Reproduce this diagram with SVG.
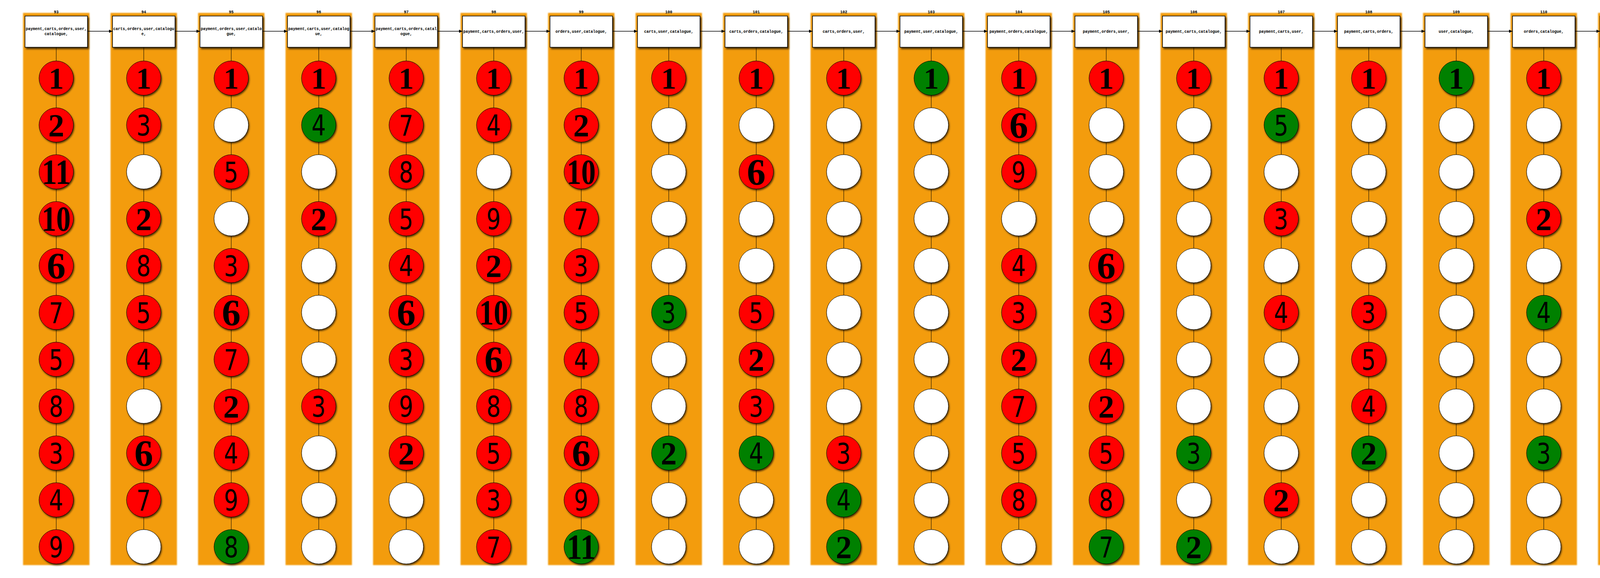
<svg xmlns="http://www.w3.org/2000/svg" width="7008" height="1480" viewBox="0 0 7008 1480">
<defs>
<filter id="blur" x="-10%" y="-2%" width="120%" height="104%"><feGaussianBlur stdDeviation="1.5"/></filter>
<filter id="bs" x="-10%" y="-10%" width="130%" height="130%"><feDropShadow dx="3" dy="4" stdDeviation="2" flood-color="#000" flood-opacity="0.7"/></filter>
<filter id="cs" x="-20%" y="-20%" width="150%" height="150%"><feDropShadow dx="2" dy="3" stdDeviation="2" flood-color="#000" flood-opacity="0.7"/></filter>
<marker id="ah" viewBox="0 0 9 8" refX="9" refY="4" markerWidth="9" markerHeight="8" markerUnits="userSpaceOnUse" orient="auto"><path d="M0,0 L9,4 L0,8 z" fill="#000"/></marker>
<style>
.band{fill:#F39C0A;filter:url(#blur)}
.cl,.t{font-family:"Liberation Mono",monospace;font-weight:bold;font-size:10px;text-anchor:middle;fill:#000}
.box{fill:#fff;stroke:#000;stroke-width:1.5;filter:url(#bs)}
circle{stroke:#000;stroke-width:1;filter:url(#cs)}
.R{fill:#f00}.G{fill:#008000}.W{fill:#fff}
.d1,.d2,.d6,.dd{font-family:"Liberation Serif",serif;font-weight:bold;text-anchor:middle;fill:#000}
.d1{font-size:78px}.d2{font-size:82px}.d6{font-size:96px}.dd{font-size:92px}
.ds{font-family:"DejaVu Sans Condensed","DejaVu Sans",sans-serif;font-stretch:condensed;font-size:73px;text-anchor:middle;fill:#000;transform-box:fill-box;transform-origin:center;transform:scaleX(.88)}
.e{fill:none;stroke:#000;stroke-width:1}
.a{stroke:#000;stroke-width:1.5;marker-end:url(#ah)}
</style>
</defs>
<rect width="7008" height="1480" fill="#fff"/>
<g id="clusters">
<g id="cluster93" transform="translate(144 0)"><rect class="band" x="-85" y="33" width="170" height="1414"/><text class="cl" y="34">93</text></g>
<g id="cluster94" transform="translate(368 0)"><rect class="band" x="-85" y="33" width="170" height="1414"/><text class="cl" y="34">94</text></g>
<g id="cluster95" transform="translate(592 0)"><rect class="band" x="-85" y="33" width="170" height="1414"/><text class="cl" y="34">95</text></g>
<g id="cluster96" transform="translate(816 0)"><rect class="band" x="-85" y="33" width="170" height="1414"/><text class="cl" y="34">96</text></g>
<g id="cluster97" transform="translate(1040 0)"><rect class="band" x="-85" y="33" width="170" height="1414"/><text class="cl" y="34">97</text></g>
<g id="cluster98" transform="translate(1264 0)"><rect class="band" x="-85" y="33" width="170" height="1414"/><text class="cl" y="34">98</text></g>
<g id="cluster99" transform="translate(1488 0)"><rect class="band" x="-85" y="33" width="170" height="1414"/><text class="cl" y="34">99</text></g>
<g id="cluster100" transform="translate(1712 0)"><rect class="band" x="-85" y="33" width="170" height="1414"/><text class="cl" y="34">100</text></g>
<g id="cluster101" transform="translate(1936 0)"><rect class="band" x="-85" y="33" width="170" height="1414"/><text class="cl" y="34">101</text></g>
<g id="cluster102" transform="translate(2160 0)"><rect class="band" x="-85" y="33" width="170" height="1414"/><text class="cl" y="34">102</text></g>
<g id="cluster103" transform="translate(2384 0)"><rect class="band" x="-85" y="33" width="170" height="1414"/><text class="cl" y="34">103</text></g>
<g id="cluster104" transform="translate(2608 0)"><rect class="band" x="-85" y="33" width="170" height="1414"/><text class="cl" y="34">104</text></g>
<g id="cluster105" transform="translate(2832 0)"><rect class="band" x="-85" y="33" width="170" height="1414"/><text class="cl" y="34">105</text></g>
<g id="cluster106" transform="translate(3056 0)"><rect class="band" x="-85" y="33" width="170" height="1414"/><text class="cl" y="34">106</text></g>
<g id="cluster107" transform="translate(3280 0)"><rect class="band" x="-85" y="33" width="170" height="1414"/><text class="cl" y="34">107</text></g>
<g id="cluster108" transform="translate(3504 0)"><rect class="band" x="-85" y="33" width="170" height="1414"/><text class="cl" y="34">108</text></g>
<g id="cluster109" transform="translate(3728 0)"><rect class="band" x="-85" y="33" width="170" height="1414"/><text class="cl" y="34">109</text></g>
<g id="cluster110" transform="translate(3952 0)"><rect class="band" x="-85" y="33" width="170" height="1414"/><text class="cl" y="34">110</text></g>
<g id="cluster111" transform="translate(4176 0)"><rect class="band" x="-85" y="33" width="170" height="1414"/><text class="cl" y="34">111</text></g>
<g id="cluster112" transform="translate(4400 0)"><rect class="band" x="-85" y="33" width="170" height="1414"/><text class="cl" y="34">112</text></g>
<g id="cluster113" transform="translate(4624 0)"><rect class="band" x="-85" y="33" width="170" height="1414"/><text class="cl" y="34">113</text></g>
<g id="cluster114" transform="translate(4848 0)"><rect class="band" x="-85" y="33" width="170" height="1414"/><text class="cl" y="34">114</text></g>
<g id="cluster115" transform="translate(5072 0)"><rect class="band" x="-85" y="33" width="170" height="1414"/><text class="cl" y="34">115</text></g>
<g id="cluster116" transform="translate(5296 0)"><rect class="band" x="-85" y="33" width="170" height="1414"/><text class="cl" y="34">116</text></g>
<g id="cluster117" transform="translate(5520 0)"><rect class="band" x="-85" y="33" width="170" height="1414"/><text class="cl" y="34">117</text></g>
<g id="cluster118" transform="translate(5744 0)"><rect class="band" x="-85" y="33" width="170" height="1414"/><text class="cl" y="34">118</text></g>
<g id="cluster119" transform="translate(5968 0)"><rect class="band" x="-85" y="33" width="170" height="1414"/><text class="cl" y="34">119</text></g>
<g id="cluster120" transform="translate(6192 0)"><rect class="band" x="-85" y="33" width="170" height="1414"/><text class="cl" y="34">120</text></g>
<g id="cluster121" transform="translate(6416 0)"><rect class="band" x="-85" y="33" width="170" height="1414"/><text class="cl" y="34">121</text></g>
<g id="cluster122" transform="translate(6640 0)"><rect class="band" x="-85" y="33" width="170" height="1414"/><text class="cl" y="34">122</text></g>
<g id="cluster123" transform="translate(6864 0)"><rect class="band" x="-85" y="33" width="170" height="1414"/><text class="cl" y="34">123</text></g>
</g>
<g id="connectors">
<path class="e" d="M144 121V1400M368 121V1400M592 121V1400M816 121V1400M1040 121V1400M1264 121V1400M1488 121V1400M1712 121V1400M1936 121V1400M2160 121V1400M2384 121V1400M2608 121V1400M2832 121V1400M3056 121V1400M3280 121V1400M3504 121V1400M3728 121V1400M3952 121V1400M4176 121V1400M4400 121V1400M4624 121V1400M4848 121V1400M5072 121V1400M5296 121V1400M5520 121V1400M5744 121V1400M5968 121V1400M6192 121V1400M6416 121V1400M6640 121V1400M6864 121V1400"/>
<line class="a" x1="224" y1="80" x2="288" y2="80"/>
<line class="a" x1="448" y1="80" x2="512" y2="80"/>
<line class="a" x1="672" y1="80" x2="736" y2="80"/>
<line class="a" x1="896" y1="80" x2="960" y2="80"/>
<line class="a" x1="1120" y1="80" x2="1184" y2="80"/>
<line class="a" x1="1344" y1="80" x2="1408" y2="80"/>
<line class="a" x1="1568" y1="80" x2="1632" y2="80"/>
<line class="a" x1="1792" y1="80" x2="1856" y2="80"/>
<line class="a" x1="2016" y1="80" x2="2080" y2="80"/>
<line class="a" x1="2240" y1="80" x2="2304" y2="80"/>
<line class="a" x1="2464" y1="80" x2="2528" y2="80"/>
<line class="a" x1="2688" y1="80" x2="2752" y2="80"/>
<line class="a" x1="2912" y1="80" x2="2976" y2="80"/>
<line class="a" x1="3136" y1="80" x2="3200" y2="80"/>
<line class="a" x1="3360" y1="80" x2="3424" y2="80"/>
<line class="a" x1="3584" y1="80" x2="3648" y2="80"/>
<line class="a" x1="3808" y1="80" x2="3872" y2="80"/>
<line class="a" x1="4032" y1="80" x2="4096" y2="80"/>
<line class="a" x1="4256" y1="80" x2="4320" y2="80"/>
<line class="a" x1="4480" y1="80" x2="4544" y2="80"/>
<line class="a" x1="4704" y1="80" x2="4768" y2="80"/>
<line class="a" x1="4928" y1="80" x2="4992" y2="80"/>
<line class="a" x1="5152" y1="80" x2="5216" y2="80"/>
<line class="a" x1="5376" y1="80" x2="5440" y2="80"/>
<line class="a" x1="5600" y1="80" x2="5664" y2="80"/>
<line class="a" x1="5824" y1="80" x2="5888" y2="80"/>
<line class="a" x1="6048" y1="80" x2="6112" y2="80"/>
<line class="a" x1="6272" y1="80" x2="6336" y2="80"/>
<line class="a" x1="6496" y1="80" x2="6560" y2="80"/>
<line class="a" x1="6720" y1="80" x2="6784" y2="80"/>
</g>
<g id="nodes">
<g transform="translate(144 0)">
<g id="s93"><rect class="box" x="-80" y="41" width="160" height="80"/><text class="t" y="77">payment,carts,orders,user,</text><text class="t" y="90">catalogue,</text></g>
<g id="n93_1"><circle class="R" cy="200" r="44"/><text class="d1" y="227">1</text></g>
<g id="n93_2"><circle class="R" cy="320" r="44"/><text class="d2" y="349">2</text></g>
<g id="n93_3"><circle class="R" cy="440" r="44"/><text class="dd" y="471" textLength="74" lengthAdjust="spacingAndGlyphs">11</text></g>
<g id="n93_4"><circle class="R" cy="560" r="44"/><text class="dd" y="591" textLength="74" lengthAdjust="spacingAndGlyphs">10</text></g>
<g id="n93_5"><circle class="R" cy="680" r="44"/><text class="d6" y="713">6</text></g>
<g id="n93_6"><circle class="R" cy="800" r="44"/><text class="ds" y="827">7</text></g>
<g id="n93_7"><circle class="R" cy="920" r="44"/><text class="ds" y="947">5</text></g>
<g id="n93_8"><circle class="R" cy="1040" r="44"/><text class="ds" y="1067">8</text></g>
<g id="n93_9"><circle class="R" cy="1160" r="44"/><text class="ds" y="1187">3</text></g>
<g id="n93_10"><circle class="R" cy="1280" r="44"/><text class="ds" y="1307">4</text></g>
<g id="n93_11"><circle class="R" cy="1400" r="44"/><text class="ds" y="1427">9</text></g>
</g>
<g transform="translate(368 0)">
<g id="s94"><rect class="box" x="-80" y="41" width="160" height="80"/><text class="t" y="77">carts,orders,user,catalogu</text><text class="t" y="90">e,</text></g>
<g id="n94_1"><circle class="R" cy="200" r="44"/><text class="d1" y="227">1</text></g>
<g id="n94_2"><circle class="R" cy="320" r="44"/><text class="ds" y="347">3</text></g>
<g id="n94_3"><circle class="W" cy="440" r="44"/></g>
<g id="n94_4"><circle class="R" cy="560" r="44"/><text class="d2" y="589">2</text></g>
<g id="n94_5"><circle class="R" cy="680" r="44"/><text class="ds" y="707">8</text></g>
<g id="n94_6"><circle class="R" cy="800" r="44"/><text class="ds" y="827">5</text></g>
<g id="n94_7"><circle class="R" cy="920" r="44"/><text class="ds" y="947">4</text></g>
<g id="n94_8"><circle class="W" cy="1040" r="44"/></g>
<g id="n94_9"><circle class="R" cy="1160" r="44"/><text class="d6" y="1193">6</text></g>
<g id="n94_10"><circle class="R" cy="1280" r="44"/><text class="ds" y="1307">7</text></g>
<g id="n94_11"><circle class="W" cy="1400" r="44"/></g>
</g>
<g transform="translate(592 0)">
<g id="s95"><rect class="box" x="-80" y="41" width="160" height="80"/><text class="t" y="77">payment,orders,user,catalo</text><text class="t" y="90">gue,</text></g>
<g id="n95_1"><circle class="R" cy="200" r="44"/><text class="d1" y="227">1</text></g>
<g id="n95_2"><circle class="W" cy="320" r="44"/></g>
<g id="n95_3"><circle class="R" cy="440" r="44"/><text class="ds" y="467">5</text></g>
<g id="n95_4"><circle class="W" cy="560" r="44"/></g>
<g id="n95_5"><circle class="R" cy="680" r="44"/><text class="ds" y="707">3</text></g>
<g id="n95_6"><circle class="R" cy="800" r="44"/><text class="d6" y="833">6</text></g>
<g id="n95_7"><circle class="R" cy="920" r="44"/><text class="ds" y="947">7</text></g>
<g id="n95_8"><circle class="R" cy="1040" r="44"/><text class="d2" y="1069">2</text></g>
<g id="n95_9"><circle class="R" cy="1160" r="44"/><text class="ds" y="1187">4</text></g>
<g id="n95_10"><circle class="R" cy="1280" r="44"/><text class="ds" y="1307">9</text></g>
<g id="n95_11"><circle class="G" cy="1400" r="44"/><text class="ds" y="1427">8</text></g>
</g>
<g transform="translate(816 0)">
<g id="s96"><rect class="box" x="-80" y="41" width="160" height="80"/><text class="t" y="77">payment,carts,user,catalog</text><text class="t" y="90">ue,</text></g>
<g id="n96_1"><circle class="R" cy="200" r="44"/><text class="d1" y="227">1</text></g>
<g id="n96_2"><circle class="G" cy="320" r="44"/><text class="ds" y="347">4</text></g>
<g id="n96_3"><circle class="W" cy="440" r="44"/></g>
<g id="n96_4"><circle class="R" cy="560" r="44"/><text class="d2" y="589">2</text></g>
<g id="n96_5"><circle class="W" cy="680" r="44"/></g>
<g id="n96_6"><circle class="W" cy="800" r="44"/></g>
<g id="n96_7"><circle class="W" cy="920" r="44"/></g>
<g id="n96_8"><circle class="R" cy="1040" r="44"/><text class="ds" y="1067">3</text></g>
<g id="n96_9"><circle class="W" cy="1160" r="44"/></g>
<g id="n96_10"><circle class="W" cy="1280" r="44"/></g>
<g id="n96_11"><circle class="W" cy="1400" r="44"/></g>
</g>
<g transform="translate(1040 0)">
<g id="s97"><rect class="box" x="-80" y="41" width="160" height="80"/><text class="t" y="77">payment,carts,orders,catal</text><text class="t" y="90">ogue,</text></g>
<g id="n97_1"><circle class="R" cy="200" r="44"/><text class="d1" y="227">1</text></g>
<g id="n97_2"><circle class="R" cy="320" r="44"/><text class="ds" y="347">7</text></g>
<g id="n97_3"><circle class="R" cy="440" r="44"/><text class="ds" y="467">8</text></g>
<g id="n97_4"><circle class="R" cy="560" r="44"/><text class="ds" y="587">5</text></g>
<g id="n97_5"><circle class="R" cy="680" r="44"/><text class="ds" y="707">4</text></g>
<g id="n97_6"><circle class="R" cy="800" r="44"/><text class="d6" y="833">6</text></g>
<g id="n97_7"><circle class="R" cy="920" r="44"/><text class="ds" y="947">3</text></g>
<g id="n97_8"><circle class="R" cy="1040" r="44"/><text class="ds" y="1067">9</text></g>
<g id="n97_9"><circle class="R" cy="1160" r="44"/><text class="d2" y="1189">2</text></g>
<g id="n97_10"><circle class="W" cy="1280" r="44"/></g>
<g id="n97_11"><circle class="W" cy="1400" r="44"/></g>
</g>
<g transform="translate(1264 0)">
<g id="s98"><rect class="box" x="-80" y="41" width="160" height="80"/><text class="t" y="84">payment,carts,orders,user,</text></g>
<g id="n98_1"><circle class="R" cy="200" r="44"/><text class="d1" y="227">1</text></g>
<g id="n98_2"><circle class="R" cy="320" r="44"/><text class="ds" y="347">4</text></g>
<g id="n98_3"><circle class="W" cy="440" r="44"/></g>
<g id="n98_4"><circle class="R" cy="560" r="44"/><text class="ds" y="587">9</text></g>
<g id="n98_5"><circle class="R" cy="680" r="44"/><text class="d2" y="709">2</text></g>
<g id="n98_6"><circle class="R" cy="800" r="44"/><text class="dd" y="831" textLength="74" lengthAdjust="spacingAndGlyphs">10</text></g>
<g id="n98_7"><circle class="R" cy="920" r="44"/><text class="d6" y="953">6</text></g>
<g id="n98_8"><circle class="R" cy="1040" r="44"/><text class="ds" y="1067">8</text></g>
<g id="n98_9"><circle class="R" cy="1160" r="44"/><text class="ds" y="1187">5</text></g>
<g id="n98_10"><circle class="R" cy="1280" r="44"/><text class="ds" y="1307">3</text></g>
<g id="n98_11"><circle class="R" cy="1400" r="44"/><text class="ds" y="1427">7</text></g>
</g>
<g transform="translate(1488 0)">
<g id="s99"><rect class="box" x="-80" y="41" width="160" height="80"/><text class="t" y="84">orders,user,catalogue,</text></g>
<g id="n99_1"><circle class="R" cy="200" r="44"/><text class="d1" y="227">1</text></g>
<g id="n99_2"><circle class="R" cy="320" r="44"/><text class="d2" y="349">2</text></g>
<g id="n99_3"><circle class="R" cy="440" r="44"/><text class="dd" y="471" textLength="74" lengthAdjust="spacingAndGlyphs">10</text></g>
<g id="n99_4"><circle class="R" cy="560" r="44"/><text class="ds" y="587">7</text></g>
<g id="n99_5"><circle class="R" cy="680" r="44"/><text class="ds" y="707">3</text></g>
<g id="n99_6"><circle class="R" cy="800" r="44"/><text class="ds" y="827">5</text></g>
<g id="n99_7"><circle class="R" cy="920" r="44"/><text class="ds" y="947">4</text></g>
<g id="n99_8"><circle class="R" cy="1040" r="44"/><text class="ds" y="1067">8</text></g>
<g id="n99_9"><circle class="R" cy="1160" r="44"/><text class="d6" y="1193">6</text></g>
<g id="n99_10"><circle class="R" cy="1280" r="44"/><text class="ds" y="1307">9</text></g>
<g id="n99_11"><circle class="G" cy="1400" r="44"/><text class="dd" y="1431" textLength="74" lengthAdjust="spacingAndGlyphs">11</text></g>
</g>
<g transform="translate(1712 0)">
<g id="s100"><rect class="box" x="-80" y="41" width="160" height="80"/><text class="t" y="84">carts,user,catalogue,</text></g>
<g id="n100_1"><circle class="R" cy="200" r="44"/><text class="d1" y="227">1</text></g>
<g id="n100_2"><circle class="W" cy="320" r="44"/></g>
<g id="n100_3"><circle class="W" cy="440" r="44"/></g>
<g id="n100_4"><circle class="W" cy="560" r="44"/></g>
<g id="n100_5"><circle class="W" cy="680" r="44"/></g>
<g id="n100_6"><circle class="G" cy="800" r="44"/><text class="ds" y="827">3</text></g>
<g id="n100_7"><circle class="W" cy="920" r="44"/></g>
<g id="n100_8"><circle class="W" cy="1040" r="44"/></g>
<g id="n100_9"><circle class="G" cy="1160" r="44"/><text class="d2" y="1189">2</text></g>
<g id="n100_10"><circle class="W" cy="1280" r="44"/></g>
<g id="n100_11"><circle class="W" cy="1400" r="44"/></g>
</g>
<g transform="translate(1936 0)">
<g id="s101"><rect class="box" x="-80" y="41" width="160" height="80"/><text class="t" y="84">carts,orders,catalogue,</text></g>
<g id="n101_1"><circle class="R" cy="200" r="44"/><text class="d1" y="227">1</text></g>
<g id="n101_2"><circle class="W" cy="320" r="44"/></g>
<g id="n101_3"><circle class="R" cy="440" r="44"/><text class="d6" y="473">6</text></g>
<g id="n101_4"><circle class="W" cy="560" r="44"/></g>
<g id="n101_5"><circle class="W" cy="680" r="44"/></g>
<g id="n101_6"><circle class="R" cy="800" r="44"/><text class="ds" y="827">5</text></g>
<g id="n101_7"><circle class="R" cy="920" r="44"/><text class="d2" y="949">2</text></g>
<g id="n101_8"><circle class="R" cy="1040" r="44"/><text class="ds" y="1067">3</text></g>
<g id="n101_9"><circle class="G" cy="1160" r="44"/><text class="ds" y="1187">4</text></g>
<g id="n101_10"><circle class="W" cy="1280" r="44"/></g>
<g id="n101_11"><circle class="W" cy="1400" r="44"/></g>
</g>
<g transform="translate(2160 0)">
<g id="s102"><rect class="box" x="-80" y="41" width="160" height="80"/><text class="t" y="84">carts,orders,user,</text></g>
<g id="n102_1"><circle class="R" cy="200" r="44"/><text class="d1" y="227">1</text></g>
<g id="n102_2"><circle class="W" cy="320" r="44"/></g>
<g id="n102_3"><circle class="W" cy="440" r="44"/></g>
<g id="n102_4"><circle class="W" cy="560" r="44"/></g>
<g id="n102_5"><circle class="W" cy="680" r="44"/></g>
<g id="n102_6"><circle class="W" cy="800" r="44"/></g>
<g id="n102_7"><circle class="W" cy="920" r="44"/></g>
<g id="n102_8"><circle class="W" cy="1040" r="44"/></g>
<g id="n102_9"><circle class="R" cy="1160" r="44"/><text class="ds" y="1187">3</text></g>
<g id="n102_10"><circle class="G" cy="1280" r="44"/><text class="ds" y="1307">4</text></g>
<g id="n102_11"><circle class="G" cy="1400" r="44"/><text class="d2" y="1429">2</text></g>
</g>
<g transform="translate(2384 0)">
<g id="s103"><rect class="box" x="-80" y="41" width="160" height="80"/><text class="t" y="84">payment,user,catalogue,</text></g>
<g id="n103_1"><circle class="G" cy="200" r="44"/><text class="d1" y="227">1</text></g>
<g id="n103_2"><circle class="W" cy="320" r="44"/></g>
<g id="n103_3"><circle class="W" cy="440" r="44"/></g>
<g id="n103_4"><circle class="W" cy="560" r="44"/></g>
<g id="n103_5"><circle class="W" cy="680" r="44"/></g>
<g id="n103_6"><circle class="W" cy="800" r="44"/></g>
<g id="n103_7"><circle class="W" cy="920" r="44"/></g>
<g id="n103_8"><circle class="W" cy="1040" r="44"/></g>
<g id="n103_9"><circle class="W" cy="1160" r="44"/></g>
<g id="n103_10"><circle class="W" cy="1280" r="44"/></g>
<g id="n103_11"><circle class="W" cy="1400" r="44"/></g>
</g>
<g transform="translate(2608 0)">
<g id="s104"><rect class="box" x="-80" y="41" width="160" height="80"/><text class="t" y="84">payment,orders,catalogue,</text></g>
<g id="n104_1"><circle class="R" cy="200" r="44"/><text class="d1" y="227">1</text></g>
<g id="n104_2"><circle class="R" cy="320" r="44"/><text class="d6" y="353">6</text></g>
<g id="n104_3"><circle class="R" cy="440" r="44"/><text class="ds" y="467">9</text></g>
<g id="n104_4"><circle class="W" cy="560" r="44"/></g>
<g id="n104_5"><circle class="R" cy="680" r="44"/><text class="ds" y="707">4</text></g>
<g id="n104_6"><circle class="R" cy="800" r="44"/><text class="ds" y="827">3</text></g>
<g id="n104_7"><circle class="R" cy="920" r="44"/><text class="d2" y="949">2</text></g>
<g id="n104_8"><circle class="R" cy="1040" r="44"/><text class="ds" y="1067">7</text></g>
<g id="n104_9"><circle class="R" cy="1160" r="44"/><text class="ds" y="1187">5</text></g>
<g id="n104_10"><circle class="R" cy="1280" r="44"/><text class="ds" y="1307">8</text></g>
<g id="n104_11"><circle class="W" cy="1400" r="44"/></g>
</g>
<g transform="translate(2832 0)">
<g id="s105"><rect class="box" x="-80" y="41" width="160" height="80"/><text class="t" y="84">payment,orders,user,</text></g>
<g id="n105_1"><circle class="R" cy="200" r="44"/><text class="d1" y="227">1</text></g>
<g id="n105_2"><circle class="W" cy="320" r="44"/></g>
<g id="n105_3"><circle class="W" cy="440" r="44"/></g>
<g id="n105_4"><circle class="W" cy="560" r="44"/></g>
<g id="n105_5"><circle class="R" cy="680" r="44"/><text class="d6" y="713">6</text></g>
<g id="n105_6"><circle class="R" cy="800" r="44"/><text class="ds" y="827">3</text></g>
<g id="n105_7"><circle class="R" cy="920" r="44"/><text class="ds" y="947">4</text></g>
<g id="n105_8"><circle class="R" cy="1040" r="44"/><text class="d2" y="1069">2</text></g>
<g id="n105_9"><circle class="R" cy="1160" r="44"/><text class="ds" y="1187">5</text></g>
<g id="n105_10"><circle class="R" cy="1280" r="44"/><text class="ds" y="1307">8</text></g>
<g id="n105_11"><circle class="G" cy="1400" r="44"/><text class="ds" y="1427">7</text></g>
</g>
<g transform="translate(3056 0)">
<g id="s106"><rect class="box" x="-80" y="41" width="160" height="80"/><text class="t" y="84">payment,carts,catalogue,</text></g>
<g id="n106_1"><circle class="R" cy="200" r="44"/><text class="d1" y="227">1</text></g>
<g id="n106_2"><circle class="W" cy="320" r="44"/></g>
<g id="n106_3"><circle class="W" cy="440" r="44"/></g>
<g id="n106_4"><circle class="W" cy="560" r="44"/></g>
<g id="n106_5"><circle class="W" cy="680" r="44"/></g>
<g id="n106_6"><circle class="W" cy="800" r="44"/></g>
<g id="n106_7"><circle class="W" cy="920" r="44"/></g>
<g id="n106_8"><circle class="W" cy="1040" r="44"/></g>
<g id="n106_9"><circle class="G" cy="1160" r="44"/><text class="ds" y="1187">3</text></g>
<g id="n106_10"><circle class="W" cy="1280" r="44"/></g>
<g id="n106_11"><circle class="G" cy="1400" r="44"/><text class="d2" y="1429">2</text></g>
</g>
<g transform="translate(3280 0)">
<g id="s107"><rect class="box" x="-80" y="41" width="160" height="80"/><text class="t" y="84">payment,carts,user,</text></g>
<g id="n107_1"><circle class="R" cy="200" r="44"/><text class="d1" y="227">1</text></g>
<g id="n107_2"><circle class="G" cy="320" r="44"/><text class="ds" y="347">5</text></g>
<g id="n107_3"><circle class="W" cy="440" r="44"/></g>
<g id="n107_4"><circle class="R" cy="560" r="44"/><text class="ds" y="587">3</text></g>
<g id="n107_5"><circle class="W" cy="680" r="44"/></g>
<g id="n107_6"><circle class="R" cy="800" r="44"/><text class="ds" y="827">4</text></g>
<g id="n107_7"><circle class="W" cy="920" r="44"/></g>
<g id="n107_8"><circle class="W" cy="1040" r="44"/></g>
<g id="n107_9"><circle class="W" cy="1160" r="44"/></g>
<g id="n107_10"><circle class="R" cy="1280" r="44"/><text class="d2" y="1309">2</text></g>
<g id="n107_11"><circle class="W" cy="1400" r="44"/></g>
</g>
<g transform="translate(3504 0)">
<g id="s108"><rect class="box" x="-80" y="41" width="160" height="80"/><text class="t" y="84">payment,carts,orders,</text></g>
<g id="n108_1"><circle class="R" cy="200" r="44"/><text class="d1" y="227">1</text></g>
<g id="n108_2"><circle class="W" cy="320" r="44"/></g>
<g id="n108_3"><circle class="W" cy="440" r="44"/></g>
<g id="n108_4"><circle class="W" cy="560" r="44"/></g>
<g id="n108_5"><circle class="W" cy="680" r="44"/></g>
<g id="n108_6"><circle class="R" cy="800" r="44"/><text class="ds" y="827">3</text></g>
<g id="n108_7"><circle class="R" cy="920" r="44"/><text class="ds" y="947">5</text></g>
<g id="n108_8"><circle class="R" cy="1040" r="44"/><text class="ds" y="1067">4</text></g>
<g id="n108_9"><circle class="G" cy="1160" r="44"/><text class="d2" y="1189">2</text></g>
<g id="n108_10"><circle class="W" cy="1280" r="44"/></g>
<g id="n108_11"><circle class="W" cy="1400" r="44"/></g>
</g>
<g transform="translate(3728 0)">
<g id="s109"><rect class="box" x="-80" y="41" width="160" height="80"/><text class="t" y="84">user,catalogue,</text></g>
<g id="n109_1"><circle class="G" cy="200" r="44"/><text class="d1" y="227">1</text></g>
<g id="n109_2"><circle class="W" cy="320" r="44"/></g>
<g id="n109_3"><circle class="W" cy="440" r="44"/></g>
<g id="n109_4"><circle class="W" cy="560" r="44"/></g>
<g id="n109_5"><circle class="W" cy="680" r="44"/></g>
<g id="n109_6"><circle class="W" cy="800" r="44"/></g>
<g id="n109_7"><circle class="W" cy="920" r="44"/></g>
<g id="n109_8"><circle class="W" cy="1040" r="44"/></g>
<g id="n109_9"><circle class="W" cy="1160" r="44"/></g>
<g id="n109_10"><circle class="W" cy="1280" r="44"/></g>
<g id="n109_11"><circle class="W" cy="1400" r="44"/></g>
</g>
<g transform="translate(3952 0)">
<g id="s110"><rect class="box" x="-80" y="41" width="160" height="80"/><text class="t" y="84">orders,catalogue,</text></g>
<g id="n110_1"><circle class="R" cy="200" r="44"/><text class="d1" y="227">1</text></g>
<g id="n110_2"><circle class="W" cy="320" r="44"/></g>
<g id="n110_3"><circle class="W" cy="440" r="44"/></g>
<g id="n110_4"><circle class="R" cy="560" r="44"/><text class="d2" y="589">2</text></g>
<g id="n110_5"><circle class="W" cy="680" r="44"/></g>
<g id="n110_6"><circle class="G" cy="800" r="44"/><text class="ds" y="827">4</text></g>
<g id="n110_7"><circle class="W" cy="920" r="44"/></g>
<g id="n110_8"><circle class="W" cy="1040" r="44"/></g>
<g id="n110_9"><circle class="G" cy="1160" r="44"/><text class="ds" y="1187">3</text></g>
<g id="n110_10"><circle class="W" cy="1280" r="44"/></g>
<g id="n110_11"><circle class="W" cy="1400" r="44"/></g>
</g>
<g transform="translate(4176 0)">
<g id="s111"><rect class="box" x="-80" y="41" width="160" height="80"/><text class="t" y="84">orders,user,</text></g>
<g id="n111_1"><circle class="R" cy="200" r="44"/><text class="d1" y="227">1</text></g>
<g id="n111_2"><circle class="G" cy="320" r="44"/><text class="ds" y="347">4</text></g>
<g id="n111_3"><circle class="W" cy="440" r="44"/></g>
<g id="n111_4"><circle class="W" cy="560" r="44"/></g>
<g id="n111_5"><circle class="R" cy="680" r="44"/><text class="ds" y="707">3</text></g>
<g id="n111_6"><circle class="W" cy="800" r="44"/></g>
<g id="n111_7"><circle class="R" cy="920" r="44"/><text class="d2" y="949">2</text></g>
<g id="n111_8"><circle class="W" cy="1040" r="44"/></g>
<g id="n111_9"><circle class="W" cy="1160" r="44"/></g>
<g id="n111_10"><circle class="W" cy="1280" r="44"/></g>
<g id="n111_11"><circle class="W" cy="1400" r="44"/></g>
</g>
<g transform="translate(4400 0)">
<g id="s112"><rect class="box" x="-80" y="41" width="160" height="80"/><text class="t" y="84">carts,catalogue,</text></g>
<g id="n112_1"><circle class="R" cy="200" r="44"/><text class="d1" y="227">1</text></g>
<g id="n112_2"><circle class="W" cy="320" r="44"/></g>
<g id="n112_3"><circle class="W" cy="440" r="44"/></g>
<g id="n112_4"><circle class="W" cy="560" r="44"/></g>
<g id="n112_5"><circle class="W" cy="680" r="44"/></g>
<g id="n112_6"><circle class="G" cy="800" r="44"/><text class="ds" y="827">3</text></g>
<g id="n112_7"><circle class="W" cy="920" r="44"/></g>
<g id="n112_8"><circle class="W" cy="1040" r="44"/></g>
<g id="n112_9"><circle class="G" cy="1160" r="44"/><text class="d2" y="1189">2</text></g>
<g id="n112_10"><circle class="W" cy="1280" r="44"/></g>
<g id="n112_11"><circle class="W" cy="1400" r="44"/></g>
</g>
<g transform="translate(4624 0)">
<g id="s113"><rect class="box" x="-80" y="41" width="160" height="80"/><text class="t" y="84">carts,user,</text></g>
<g id="n113_1"><circle class="R" cy="200" r="44"/><text class="d1" y="227">1</text></g>
<g id="n113_2"><circle class="W" cy="320" r="44"/></g>
<g id="n113_3"><circle class="W" cy="440" r="44"/></g>
<g id="n113_4"><circle class="R" cy="560" r="44"/><text class="ds" y="587">5</text></g>
<g id="n113_5"><circle class="W" cy="680" r="44"/></g>
<g id="n113_6"><circle class="G" cy="800" r="44"/><text class="ds" y="827">4</text></g>
<g id="n113_7"><circle class="G" cy="920" r="44"/><text class="ds" y="947">3</text></g>
<g id="n113_8"><circle class="G" cy="1040" r="44"/><text class="d2" y="1069">2</text></g>
<g id="n113_9"><circle class="W" cy="1160" r="44"/></g>
<g id="n113_10"><circle class="W" cy="1280" r="44"/></g>
<g id="n113_11"><circle class="W" cy="1400" r="44"/></g>
</g>
<g transform="translate(4848 0)">
<g id="s114"><rect class="box" x="-80" y="41" width="160" height="80"/><text class="t" y="84">carts,orders,</text></g>
<g id="n114_1"><circle class="R" cy="200" r="44"/><text class="d1" y="227">1</text></g>
<g id="n114_2"><circle class="W" cy="320" r="44"/></g>
<g id="n114_3"><circle class="W" cy="440" r="44"/></g>
<g id="n114_4"><circle class="W" cy="560" r="44"/></g>
<g id="n114_5"><circle class="R" cy="680" r="44"/><text class="d2" y="709">2</text></g>
<g id="n114_6"><circle class="G" cy="800" r="44"/><text class="ds" y="827">5</text></g>
<g id="n114_7"><circle class="W" cy="920" r="44"/></g>
<g id="n114_8"><circle class="R" cy="1040" r="44"/><text class="ds" y="1067">3</text></g>
<g id="n114_9"><circle class="G" cy="1160" r="44"/><text class="ds" y="1187">4</text></g>
<g id="n114_10"><circle class="W" cy="1280" r="44"/></g>
<g id="n114_11"><circle class="W" cy="1400" r="44"/></g>
</g>
<g transform="translate(5072 0)">
<g id="s115"><rect class="box" x="-80" y="41" width="160" height="80"/><text class="t" y="84">payment,catalogue,</text></g>
<g id="n115_1"><circle class="G" cy="200" r="44"/><text class="d1" y="227">1</text></g>
<g id="n115_2"><circle class="W" cy="320" r="44"/></g>
<g id="n115_3"><circle class="W" cy="440" r="44"/></g>
<g id="n115_4"><circle class="W" cy="560" r="44"/></g>
<g id="n115_5"><circle class="W" cy="680" r="44"/></g>
<g id="n115_6"><circle class="W" cy="800" r="44"/></g>
<g id="n115_7"><circle class="W" cy="920" r="44"/></g>
<g id="n115_8"><circle class="W" cy="1040" r="44"/></g>
<g id="n115_9"><circle class="W" cy="1160" r="44"/></g>
<g id="n115_10"><circle class="W" cy="1280" r="44"/></g>
<g id="n115_11"><circle class="W" cy="1400" r="44"/></g>
</g>
<g transform="translate(5296 0)">
<g id="s116"><rect class="box" x="-80" y="41" width="160" height="80"/><text class="t" y="84">payment,user,</text></g>
<g id="n116_1"><circle class="G" cy="200" r="44"/><text class="d1" y="227">1</text></g>
<g id="n116_2"><circle class="W" cy="320" r="44"/></g>
<g id="n116_3"><circle class="W" cy="440" r="44"/></g>
<g id="n116_4"><circle class="W" cy="560" r="44"/></g>
<g id="n116_5"><circle class="W" cy="680" r="44"/></g>
<g id="n116_6"><circle class="W" cy="800" r="44"/></g>
<g id="n116_7"><circle class="W" cy="920" r="44"/></g>
<g id="n116_8"><circle class="W" cy="1040" r="44"/></g>
<g id="n116_9"><circle class="W" cy="1160" r="44"/></g>
<g id="n116_10"><circle class="W" cy="1280" r="44"/></g>
<g id="n116_11"><circle class="W" cy="1400" r="44"/></g>
</g>
<g transform="translate(5520 0)">
<g id="s117"><rect class="box" x="-80" y="41" width="160" height="80"/><text class="t" y="84">payment,orders,</text></g>
<g id="n117_1"><circle class="R" cy="200" r="44"/><text class="d1" y="227">1</text></g>
<g id="n117_2"><circle class="R" cy="320" r="44"/><text class="ds" y="347">3</text></g>
<g id="n117_3"><circle class="R" cy="440" r="44"/><text class="ds" y="467">4</text></g>
<g id="n117_4"><circle class="R" cy="560" r="44"/><text class="ds" y="587">7</text></g>
<g id="n117_5"><circle class="W" cy="680" r="44"/></g>
<g id="n117_6"><circle class="G" cy="800" r="44"/><text class="d6" y="833">6</text></g>
<g id="n117_7"><circle class="W" cy="920" r="44"/></g>
<g id="n117_8"><circle class="R" cy="1040" r="44"/><text class="d2" y="1069">2</text></g>
<g id="n117_9"><circle class="G" cy="1160" r="44"/><text class="ds" y="1187">5</text></g>
<g id="n117_10"><circle class="W" cy="1280" r="44"/></g>
<g id="n117_11"><circle class="W" cy="1400" r="44"/></g>
</g>
<g transform="translate(5744 0)">
<g id="s118"><rect class="box" x="-80" y="41" width="160" height="80"/><text class="t" y="84">payment,carts,</text></g>
<g id="n118_1"><circle class="R" cy="200" r="44"/><text class="d1" y="227">1</text></g>
<g id="n118_2"><circle class="W" cy="320" r="44"/></g>
<g id="n118_3"><circle class="W" cy="440" r="44"/></g>
<g id="n118_4"><circle class="W" cy="560" r="44"/></g>
<g id="n118_5"><circle class="W" cy="680" r="44"/></g>
<g id="n118_6"><circle class="W" cy="800" r="44"/></g>
<g id="n118_7"><circle class="W" cy="920" r="44"/></g>
<g id="n118_8"><circle class="G" cy="1040" r="44"/><text class="ds" y="1067">3</text></g>
<g id="n118_9"><circle class="W" cy="1160" r="44"/></g>
<g id="n118_10"><circle class="G" cy="1280" r="44"/><text class="d2" y="1309">2</text></g>
<g id="n118_11"><circle class="W" cy="1400" r="44"/></g>
</g>
<g transform="translate(5968 0)">
<g id="s119"><rect class="box" x="-80" y="41" width="160" height="80"/><text class="t" y="84">catalogue,</text></g>
<g id="n119_1"><circle class="G" cy="200" r="44"/><text class="d1" y="227">1</text></g>
<g id="n119_2"><circle class="W" cy="320" r="44"/></g>
<g id="n119_3"><circle class="W" cy="440" r="44"/></g>
<g id="n119_4"><circle class="W" cy="560" r="44"/></g>
<g id="n119_5"><circle class="W" cy="680" r="44"/></g>
<g id="n119_6"><circle class="W" cy="800" r="44"/></g>
<g id="n119_7"><circle class="W" cy="920" r="44"/></g>
<g id="n119_8"><circle class="W" cy="1040" r="44"/></g>
<g id="n119_9"><circle class="W" cy="1160" r="44"/></g>
<g id="n119_10"><circle class="W" cy="1280" r="44"/></g>
<g id="n119_11"><circle class="W" cy="1400" r="44"/></g>
</g>
<g transform="translate(6192 0)">
<g id="s120"><rect class="box" x="-80" y="41" width="160" height="80"/><text class="t" y="84">user,</text></g>
<g id="n120_1"><circle class="G" cy="200" r="44"/><text class="d1" y="227">1</text></g>
<g id="n120_2"><circle class="W" cy="320" r="44"/></g>
<g id="n120_3"><circle class="W" cy="440" r="44"/></g>
<g id="n120_4"><circle class="W" cy="560" r="44"/></g>
<g id="n120_5"><circle class="W" cy="680" r="44"/></g>
<g id="n120_6"><circle class="W" cy="800" r="44"/></g>
<g id="n120_7"><circle class="W" cy="920" r="44"/></g>
<g id="n120_8"><circle class="W" cy="1040" r="44"/></g>
<g id="n120_9"><circle class="W" cy="1160" r="44"/></g>
<g id="n120_10"><circle class="W" cy="1280" r="44"/></g>
<g id="n120_11"><circle class="W" cy="1400" r="44"/></g>
</g>
<g transform="translate(6416 0)">
<g id="s121"><rect class="box" x="-80" y="41" width="160" height="80"/><text class="t" y="84">orders,</text></g>
<g id="n121_1"><circle class="R" cy="200" r="44"/><text class="d1" y="227">1</text></g>
<g id="n121_2"><circle class="G" cy="320" r="44"/><text class="d2" y="349">2</text></g>
<g id="n121_3"><circle class="W" cy="440" r="44"/></g>
<g id="n121_4"><circle class="W" cy="560" r="44"/></g>
<g id="n121_5"><circle class="W" cy="680" r="44"/></g>
<g id="n121_6"><circle class="W" cy="800" r="44"/></g>
<g id="n121_7"><circle class="W" cy="920" r="44"/></g>
<g id="n121_8"><circle class="W" cy="1040" r="44"/></g>
<g id="n121_9"><circle class="W" cy="1160" r="44"/></g>
<g id="n121_10"><circle class="W" cy="1280" r="44"/></g>
<g id="n121_11"><circle class="W" cy="1400" r="44"/></g>
</g>
<g transform="translate(6640 0)">
<g id="s122"><rect class="box" x="-80" y="41" width="160" height="80"/><text class="t" y="84">carts,</text></g>
<g id="n122_1"><circle class="R" cy="200" r="44"/><text class="d1" y="227">1</text></g>
<g id="n122_2"><circle class="G" cy="320" r="44"/><text class="ds" y="347">4</text></g>
<g id="n122_3"><circle class="W" cy="440" r="44"/></g>
<g id="n122_4"><circle class="R" cy="560" r="44"/><text class="d2" y="589">2</text></g>
<g id="n122_5"><circle class="G" cy="680" r="44"/><text class="ds" y="707">3</text></g>
<g id="n122_6"><circle class="W" cy="800" r="44"/></g>
<g id="n122_7"><circle class="W" cy="920" r="44"/></g>
<g id="n122_8"><circle class="W" cy="1040" r="44"/></g>
<g id="n122_9"><circle class="W" cy="1160" r="44"/></g>
<g id="n122_10"><circle class="W" cy="1280" r="44"/></g>
<g id="n122_11"><circle class="W" cy="1400" r="44"/></g>
</g>
<g transform="translate(6864 0)">
<g id="s123"><rect class="box" x="-80" y="41" width="160" height="80"/><text class="t" y="84">payment,</text></g>
<g id="n123_1"><circle class="G" cy="200" r="44"/><text class="d1" y="227">1</text></g>
<g id="n123_2"><circle class="W" cy="320" r="44"/></g>
<g id="n123_3"><circle class="W" cy="440" r="44"/></g>
<g id="n123_4"><circle class="W" cy="560" r="44"/></g>
<g id="n123_5"><circle class="W" cy="680" r="44"/></g>
<g id="n123_6"><circle class="W" cy="800" r="44"/></g>
<g id="n123_7"><circle class="W" cy="920" r="44"/></g>
<g id="n123_8"><circle class="W" cy="1040" r="44"/></g>
<g id="n123_9"><circle class="W" cy="1160" r="44"/></g>
<g id="n123_10"><circle class="W" cy="1280" r="44"/></g>
<g id="n123_11"><circle class="W" cy="1400" r="44"/></g>
</g>
</g>
</svg>
